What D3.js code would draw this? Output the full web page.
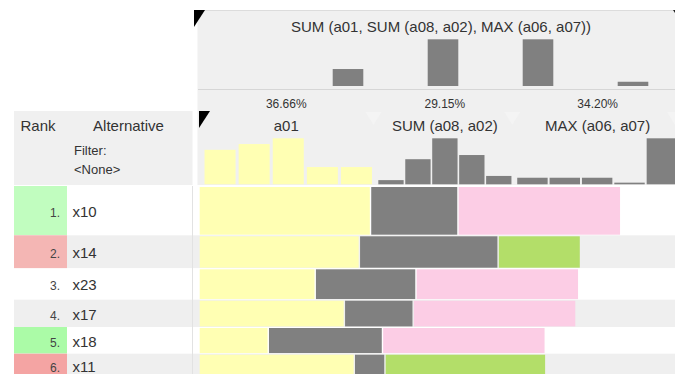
<!DOCTYPE html>
<html>
<head>
<meta charset="utf-8">
<script src="https://cdn.jsdelivr.net/npm/d3@7"></script>
<style>
  html, body { margin: 0; padding: 0; background: #fff; }
  svg { display: block; font-family: "Liberation Sans", Arial, Helvetica, sans-serif; }
</style>
</head>
<body>
<svg id="chart" width="675" height="374"></svg>
<script>
// ---- data ----
const combinedTitle = "SUM (a01, SUM (a08, a02), MAX (a06, a07))";
const columnNames = ["a01", "SUM (a08, a02)", "MAX (a06, a07)"];
const columnWeights = [0.3666, 0.2915, 0.3420];
const weightLabels = ["36.66%", "29.15%", "34.20%"];
const combinedHist = [0, 4, 11, 11, 1];
const a01Hist = [6, 7, 8, 3, 3];
const sumHist = [1, 6, 11, 7, 2];
const maxHist = [4, 4, 4, 1, 28];
const ranks = [1, 2, 3, 4, 5, 6];
const alternatives = ["x10", "x14", "x23", "x17", "x18", "x11"];
const rankDelta = [1, -1, 0, 0, 2, -2];
const a01Values = [0.983, 0.919, 0.666, 0.833, 0.397, 0.890];
const sumValues = [0.630, 1.000, 0.726, 0.496, 0.823, 0.221];
const maxValues = [1.000, 0.506, 1.000, 1.000, 1.000, 0.988];
const maxSources = ["a07", "a06", "a07", "a07", "a07", "a06"];

// ---- styling / layout ----
const attrColor = { a01: "#ffffb3", a06: "#b3de69", a07: "#fccde5" };
const combinedGray = "#808080";
const headerBg = "#f0f0f0";
const textColor = "#333";
const rowHeights = [49.3, 33, 31.4, 27.3, 26.7, 23];

const svg = d3.select("#chart");
const W = 476, X0 = 199;
const weightScale = d3.scaleLinear().domain([0, 1]).range([0, W]);

// column extents derived from weights
const colStarts = [];
let acc = 0;
columnWeights.forEach(w => { colStarts.push(X0 + weightScale(acc)); acc += w; });
const colWidths = columnWeights.map(w => weightScale(w));

// ---- header backgrounds ----
svg.append("rect").attr("x", 197.5).attr("y", 10).attr("width", 480).attr("height", 175)
  .attr("fill", headerBg);
svg.append("line").attr("x1", 197.5).attr("x2", 675).attr("y1", 10.5).attr("y2", 10.5)
  .attr("stroke", "#dcdcdc");
svg.append("line").attr("x1", 198).attr("x2", 675).attr("y1", 89.5).attr("y2", 89.5)
  .attr("stroke", "#d6d6d6");
svg.append("rect").attr("x", 14).attr("y", 111).attr("width", 178.5).attr("height", 74)
  .attr("fill", headerBg);

// corner markers
svg.append("path").attr("d", "M194,10 L205,10 L194,27 Z").attr("fill", "#000");
svg.append("path").attr("d", "M199,111 L210,111 L199,128 Z").attr("fill", "#000");
svg.append("path").attr("d", "M673,10 L675,10 L675,13 Z").attr("fill", "#222");

// faint drop markers on the right-hand column headers
[colStarts[1], colStarts[2], 675].forEach(cx => {
  svg.append("path")
    .attr("d", `M${cx - 8},112 L${cx + 8},112 L${cx},125 Z`)
    .attr("fill", "#f8f8f8").attr("opacity", 0.45);
});

// ---- combined column summary ----
svg.append("text").attr("x", 441).attr("y", 32).attr("text-anchor", "middle")
  .attr("font-size", 15).attr("fill", textColor).text(combinedTitle);

const topX = d3.scaleBand().domain(d3.range(combinedHist.length))
  .range([205.5, 680.5]).paddingInner(0.678).paddingOuter(0.339);
const topY = d3.scaleLinear().domain([0, d3.max(combinedHist)]).range([86, 39.3]);
svg.append("g").selectAll("rect").data(combinedHist).join("rect")
  .attr("x", (d, i) => topX(i)).attr("width", topX.bandwidth())
  .attr("y", d => topY(d)).attr("height", d => topY(0) - topY(d))
  .attr("fill", combinedGray);

// weight labels
svg.append("g").selectAll("text").data(weightLabels).join("text")
  .attr("x", (d, i) => colStarts[i] + colWidths[i] / 2 + i * 2)
  .attr("y", 108).attr("text-anchor", "middle").attr("font-size", 12)
  .attr("fill", textColor).text(d => d);

// ---- column headers ----
svg.append("text").attr("x", 38).attr("y", 131).attr("text-anchor", "middle")
  .attr("font-size", 15).attr("fill", textColor).text("Rank");
svg.append("text").attr("x", 128.5).attr("y", 131).attr("text-anchor", "middle")
  .attr("font-size", 15).attr("fill", textColor).text("Alternative");
svg.append("text").attr("x", 74).attr("y", 155).attr("font-size", 13)
  .attr("fill", textColor).text("Filter:");
svg.append("text").attr("x", 74).attr("y", 174).attr("font-size", 13)
  .attr("fill", textColor).text("<None>");

svg.append("g").selectAll("text").data(columnNames).join("text")
  .attr("x", (d, i) => colStarts[i] + colWidths[i] / 2 + i * 2)
  .attr("y", 131).attr("text-anchor", "middle").attr("font-size", 15)
  .attr("fill", textColor).text(d => d);

// per-column histograms
const colHists = [a01Hist, sumHist, maxHist];
const colHistFill = [attrColor.a01, combinedGray, combinedGray];
const colPad = [0.09, 0.06, 0.06];
colHists.forEach((hist, ci) => {
  const hx = d3.scaleBand().domain(d3.range(hist.length))
    .range([colStarts[ci] + 4, colStarts[ci] + colWidths[ci] + (ci === 2 ? 3 : 0)])
    .paddingInner(colPad[ci]).paddingOuter(colPad[ci] / 2);
  const hy = d3.scaleLinear().domain([0, d3.max(hist)]).range([184.3, 138.3]);
  svg.append("g").selectAll("rect").data(hist).join("rect")
    .attr("x", (d, i) => hx(i)).attr("width", hx.bandwidth())
    .attr("y", d => hy(d)).attr("height", d => hy(0) - hy(d))
    .attr("fill", colHistFill[ci]);
});

// ---- rows ----
const rowTops = [];
let yAcc = 186;
rowHeights.forEach(h => { rowTops.push(yAcc); yAcc += h; });
const lastRow = rowHeights.length - 1;
const fillHeight = i => rowHeights[i] + (i === lastRow ? 10 : 0);

const upColor = d3.scaleLinear().domain([1, 2]).range(["#c1fdbf", "#abfba7"]);
const downColor = d3.scaleLinear().domain([1, 2]).range(["#f4b6b4", "#f4a4a3"]);

const rows = svg.append("g").selectAll("g").data(alternatives).join("g")
  .attr("transform", (d, i) => `translate(0,${rowTops[i]})`);

rows.append("rect").attr("x", 14).attr("y", 0).attr("width", 661)
  .attr("height", (d, i) => fillHeight(i))
  .attr("fill", (d, i) => i % 2 === 1 ? "#efefef" : "#fff");

rows.append("rect").attr("x", 14).attr("y", 0).attr("width", 53)
  .attr("height", (d, i) => fillHeight(i))
  .attr("fill", (d, i) => rankDelta[i] > 0 ? upColor(rankDelta[i])
    : rankDelta[i] < 0 ? downColor(-rankDelta[i]) : "none");

rows.append("text").attr("x", 60).attr("y", (d, i) => rowHeights[i] / 2 + 6.5)
  .attr("text-anchor", "end").attr("font-size", 12).attr("fill", "#444")
  .text((d, i) => ranks[i] + ".");

rows.append("text").attr("x", 72.5).attr("y", (d, i) => rowHeights[i] / 2 + 6.5)
  .attr("font-size", 15).attr("fill", textColor).text(d => d);

// stacked contribution bars
rows.each(function (d, i) {
  const g = d3.select(this);
  const segs = [
    { v: a01Values[i] * columnWeights[0], fill: attrColor.a01 },
    { v: sumValues[i] * columnWeights[1], fill: combinedGray },
    { v: maxValues[i] * columnWeights[2], fill: attrColor[maxSources[i]] }
  ];
  const h = fillHeight(i);
  let start = 0;
  segs.forEach(s => {
    const x = X0 + weightScale(start);
    const w = weightScale(s.v);
    g.append("rect").attr("x", x + 0.7).attr("y", 1)
      .attr("width", Math.max(0, w - 1.4)).attr("height", h - 1.6)
      .attr("fill", s.fill);
    start += s.v;
  });
});

// divider between name column and score bars
svg.append("line").attr("x1", 192.5).attr("x2", 192.5).attr("y1", 186).attr("y2", 374)
  .attr("stroke", "#e2e2e2");
</script>
</body>
</html>
